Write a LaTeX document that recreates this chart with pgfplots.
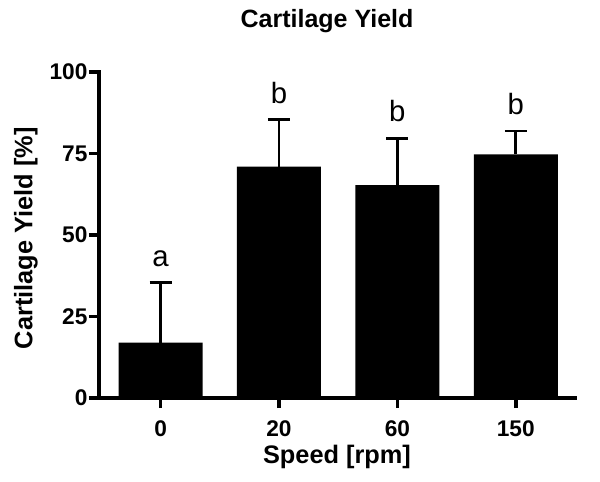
\documentclass[border=0pt]{standalone}
\usepackage{fontspec}
\setmainfont{Liberation Sans}
\usepackage{pgfplots}
\pgfplotsset{compat=1.18}
\begin{document}
\begin{tikzpicture}
\begin{axis}[
    name=ax,
    scale only axis,
    width=357pt, height=244.5pt,
    xmin=-0.52, xmax=3.5,
    ymin=0, ymax=100,
    axis x line*=bottom,
    axis y line*=left,
    axis line style={line width=2.6pt, line cap=rect},
    tick style={line width=2.6pt, black},
    major tick length=7.5pt,
    tick align=outside,
    xtick={0,1,2,3},
    xticklabels={0,20,60,150},
    ytick={0,25,50,75,100},
    /pgf/number format/assume math mode=true,
    ticklabel style={font=\fontsize{17}{20}\selectfont\bfseries},
    xticklabel style={anchor=north, inner sep=0pt, yshift=-9pt},
    yticklabel style={anchor=east, inner sep=0pt, xshift=-1pt},
    title={Cartilage Yield},
    every axis title/.style={at={(axis description cs:0.479,1)}, anchor=base,
        yshift=33pt, font=\fontsize{18.75}{22}\selectfont\bfseries},
    xlabel={Speed [rpm]},
    every axis x label/.style={at={(axis description cs:0.5,0)}, anchor=base,
        yshift=-48.75pt, font=\fontsize{19}{22}\selectfont\bfseries},
    ylabel={Cartilage Yield [\%]},
    every axis y label/.style={at={(axis description cs:0,0.49)}, xshift=-50pt,
        rotate=90, anchor=base, font=\fontsize{19}{22}\selectfont\bfseries},
    clip=false,
]
% mean with upper SD
\addplot[ybar, bar width=63pt, fill=black, draw=none,
    error bars/.cd, y dir=plus, y explicit,
    error bar style={line width=2.2pt, black},
    error mark options={rotate=90, line width=2.2pt, black, mark size=8.25pt}]
    table[x=x, y=y, y error=e] {
x y e
0 17.0 18.3
1 71.0 14.3
2 65.3 14.4
3 74.7 7.2
};
% significance letters
\addplot[draw=none, mark=none, nodes near coords, point meta=explicit symbolic,
    every node near coord/.style={anchor=south, inner sep=0pt, yshift=12pt,
        font=\fontsize{22}{24}\selectfont, black}]
    table[x=x, y=y, meta=lab] {
x y lab
0 35.3 a
1 85.3 b
2 79.7 b
3 81.9 b
};
\end{axis}
\pgfresetboundingbox
\path[use as bounding box] (ax.south west) ++(-74.25pt,-63pt) rectangle ++(450pt,361.5pt);
\end{tikzpicture}
\end{document}
